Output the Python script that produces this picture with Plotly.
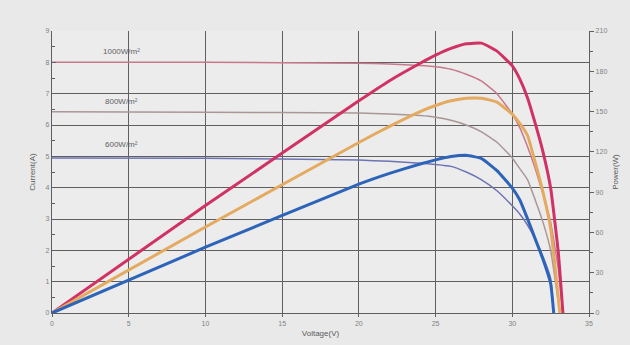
import plotly.graph_objects as go

# Voltage grids (V)
v_1000 = [0, 10, 20, 22, 24, 25, 26, 27, 28, 29, 30, 30.5, 31, 31.5, 32, 32.5, 33, 33.3]
v_800 = [0, 10, 20, 22, 24, 25, 26, 27, 28, 29, 30, 30.5, 31, 31.5, 32, 32.5, 33.1]
v_600 = [0, 10, 20, 22, 24, 25, 26, 27, 28, 29, 30, 30.5, 31, 31.5, 32, 32.5, 32.7]

# Current (A)
i_1000 = [8.0, 8.0, 7.97, 7.95, 7.9, 7.86, 7.78, 7.62, 7.4, 7.0, 6.35, 5.9, 5.3, 4.6, 3.8, 2.9, 1.4, 0]
i_800 = [6.42, 6.41, 6.38, 6.35, 6.3, 6.25, 6.15, 6.0, 5.78, 5.45, 4.95, 4.6, 4.25, 3.6, 2.9, 2.0, 0]
i_600 = [4.95, 4.94, 4.88, 4.84, 4.78, 4.74, 4.68, 4.5, 4.25, 3.9, 3.42, 3.15, 2.8, 2.35, 1.8, 1.1, 0]

# Power (W)
p_1000 = [0, 80, 158, 173, 186, 192, 197, 200.5, 201, 195, 184, 174, 160, 141, 120, 93, 45, 0]
p_800 = [0, 64, 127, 139, 150, 154.5, 158, 160, 160, 157, 148, 141, 132, 112, 90, 63, 0]
p_600 = [0, 49, 96, 104, 111, 114, 116.5, 117.5, 115, 106, 93, 84, 70, 55, 40, 22, 0]

labels = ["1000W/m²", "800W/m²", "600W/m²"]
label_v = [4.5, 4.5, 4.5]
label_i = [8.34, 6.74, 5.37]

x_ticks = [0, 5, 10, 15, 20, 25, 30, 35]
i_ticks = list(range(0, 10))
p_ticks = [0, 30, 60, 90, 120, 150, 180, 210]

iv_colors = ["rgb(200,120,140)", "rgb(170,150,150)", "rgb(110,115,180)"]
pv_colors = ["rgb(208,50,100)", "rgb(228,170,95)", "rgb(45,100,185)"]

fig = go.Figure()
for v, i, c in zip([v_1000, v_800, v_600], [i_1000, i_800, i_600], iv_colors):
    fig.add_trace(go.Scatter(x=v, y=i, mode="lines", line=dict(color=c, width=1.5, shape="spline", smoothing=0.4),
                             yaxis="y", showlegend=False, hoverinfo="skip"))
for v, p, c in zip([v_1000, v_800, v_600], [p_1000, p_800, p_600], pv_colors):
    fig.add_trace(go.Scatter(x=v, y=p, mode="lines", line=dict(color=c, width=3, shape="spline", smoothing=0.4),
                             yaxis="y2", showlegend=False, hoverinfo="skip"))

for t, xv, yv in zip(labels, label_v, label_i):
    fig.add_annotation(x=xv, y=yv, xref="x", yref="y", text=t, showarrow=False,
                       font=dict(size=8, color="rgb(95,95,95)", family="Liberation Sans"))

grid = "rgb(95,95,95)"
tickfont = dict(size=7, color="rgb(130,130,130)", family="Liberation Sans")
titlefont = dict(size=8, color="rgb(90,90,90)", family="Liberation Sans")
fig.update_layout(
    width=630, height=345,
    margin=dict(l=44, r=49, t=23, b=40),
    paper_bgcolor="rgb(233,233,233)",
    plot_bgcolor="rgb(236,236,236)",
    xaxis=dict(range=[0, 35], tickvals=x_ticks, showgrid=True, gridcolor=grid, gridwidth=1.4,
               zeroline=False, showline=True, linecolor=grid, linewidth=1.4, automargin=False,
               ticks="outside", ticklen=3, tickcolor=grid, tickfont=tickfont,
               title=dict(text="Voltage(V)", font=titlefont, standoff=4)),
    yaxis=dict(range=[0, 9], tickvals=i_ticks, showgrid=True, gridcolor=grid, gridwidth=1.4,
               zeroline=False, showline=True, linecolor=grid, linewidth=1.4, automargin=False,
               ticks="inside", ticklen=4, tickcolor=grid, tickfont=tickfont,
               minor=dict(dtick=0.5, ticks="inside", ticklen=3, tickcolor=grid, showgrid=False),
               title=dict(text="Current(A)", font=titlefont, standoff=8)),
    yaxis2=dict(range=[0, 210], tickvals=p_ticks, overlaying="y", side="right", showgrid=False,
                zeroline=False, showline=True, linecolor=grid, linewidth=1.4, automargin=False,
                ticks="outside", ticklen=4, tickcolor=grid, tickfont=tickfont,
                minor=dict(dtick=15, ticks="outside", ticklen=3, tickcolor=grid),
                title=dict(text="Power(W)", font=titlefont, standoff=6)),
)

fig.write_html("out.html", post_script="document.body.style.background='rgb(233,233,233)';")
